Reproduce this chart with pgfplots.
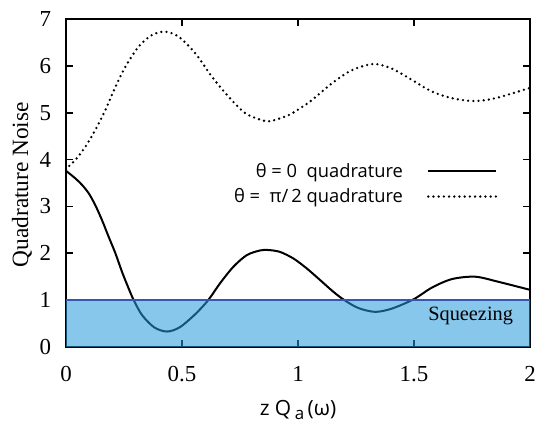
\documentclass[border=0pt]{standalone}
\usepackage{fontspec}
\setmainfont{Liberation Serif}
\newfontfamily\sansf{Open Sans}
\usepackage{pgfplots}
\pgfplotsset{compat=1.18}
\definecolor{sqfill}{RGB}{37,153,220}
\definecolor{sqline}{RGB}{50,88,178}

\begin{document}
\begin{tikzpicture}
\useasboundingbox (0,0) rectangle (267.5bp,212bp);
\begin{axis}[
    at={(33bp,38.5bp)}, anchor=south west,
    scale only axis, width=232bp, height=164bp,
    xmin=0, xmax=2, ymin=0, ymax=7,
    xtick={0,0.5,1,1.5,2}, ytick={0,1,...,7},
    tick align=inside, major tick length=3.5bp,
    axis line style={line width=1bp},
    tick style={line width=0.9bp, black},
    /pgf/number format/assume math mode=true,
    ticklabel style={font=\rmfamily\fontsize{11.5}{13}\selectfont},
    xticklabel style={yshift=-6bp},
    yticklabel style={xshift=-4bp},
    xlabel={\sansf\fontsize{10.5}{12}\selectfont z Q\,\raisebox{-0.4ex}{\fontsize{8.5}{9}\selectfont a}\,(ω)},
    xlabel style={at={(axis description cs:0.5,-0.192)}, anchor=center},
    ylabel={\fontsize{11.7}{13}\selectfont Quadrature Noise},
    ylabel style={at={(axis description cs:-0.095,0.495)}, anchor=center, rotate=0},
    legend plot pos=right,
    legend style={draw=none, fill=none, inner sep=0pt,
        at={(axis description cs:0.931,0.497)}, anchor=east,
        font=\sansf\fontsize{9.2}{11}\selectfont,
        row sep=0bp, column sep=10bp, cells={anchor=east}},
    legend image code/.code={\draw[#1] (0bp,0bp) -- (34bp,0bp);},
]
% theta = 0 quadrature
\addplot[black, line width=1bp, smooth] coordinates {
    (0,3.76) (0.04,3.60) (0.069,3.46) (0.098,3.28) (0.126,3.03)
    (0.155,2.71) (0.184,2.35) (0.213,2.00) (0.241,1.61) (0.27,1.25)
    (0.292,1.00) (0.328,0.68) (0.38,0.42) (0.435,0.33) (0.49,0.42)
    (0.557,0.70) (0.613,1.00) (0.664,1.36) (0.721,1.71) (0.779,1.96)
    (0.836,2.06) (0.872,2.07) (0.922,2.03) (0.98,1.89) (1.037,1.68)
    (1.095,1.43) (1.152,1.18) (1.20,1.00) (1.261,0.83) (1.333,0.75)
    (1.405,0.82) (1.499,1.02) (1.578,1.27) (1.664,1.45) (1.764,1.50)
    (1.865,1.39) (2.0,1.22)
};
% theta = pi/2 quadrature
\addplot[black, line width=1.3bp, line cap=round, dash pattern=on 0pt off 2.6bp, smooth] coordinates {
    (0,3.78) (0.011,3.85) (0.04,3.99) (0.083,4.27) (0.126,4.63)
    (0.170,5.06) (0.213,5.55) (0.256,5.98) (0.313,6.41) (0.371,6.66)
    (0.428,6.73) (0.486,6.62) (0.557,6.27) (0.629,5.77) (0.701,5.34)
    (0.773,4.99) (0.845,4.84) (0.881,4.82) (0.960,4.95) (1.017,5.12)
    (1.060,5.27) (1.147,5.63) (1.233,5.91) (1.326,6.04) (1.405,5.94)
    (1.491,5.70) (1.578,5.45) (1.664,5.31) (1.757,5.25) (1.851,5.31)
    (2.0,5.53)
};
\legend{θ = 0\ \ quadrature, θ =\ \ π/\,2 quadrature}
% squeezing region
\addplot[forget plot, draw=none, fill=sqfill, fill opacity=0.55] coordinates {
    (0,0) (2,0) (2,1) (0,1)
} \closedcycle;
\addplot[forget plot, sqline, line width=0.8bp] coordinates {(0,1) (2,1)};
\node[anchor=base east, font=\fontsize{10.2}{12}\selectfont] at (axis cs:1.957,0.56) {Squeezing};
\end{axis}
\end{tikzpicture}
\end{document}
